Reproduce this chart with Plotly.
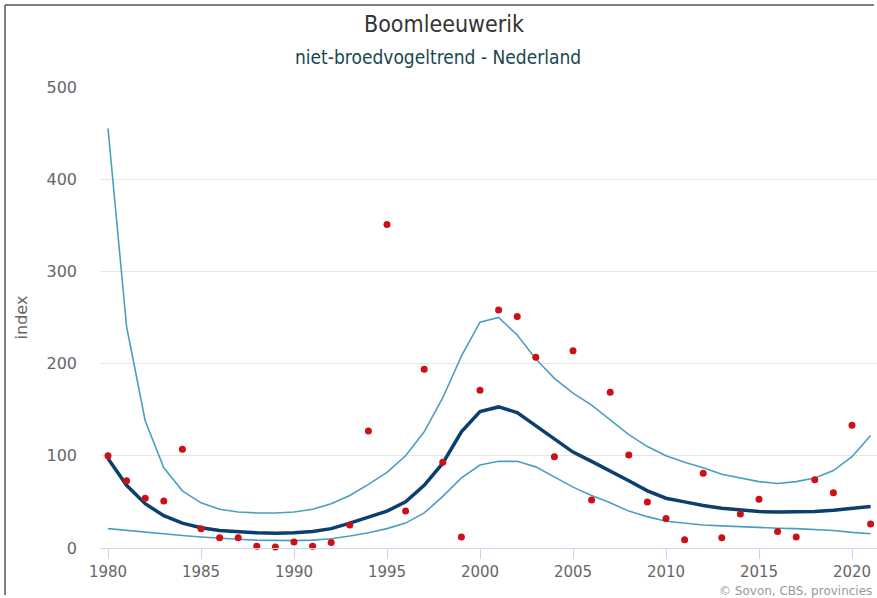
import plotly.graph_objects as go

years = list(range(1980, 2022))

observed = [100, 73, 54, 51, 107, 21, 11, 11, 2, 1,
            6.5, 2, 6, 25, 127, 351, 40, 194, 93, 12,
            171, 258, 251, 207, 99, 214, 52, 169, 101, 50,
            32, 9, 81, 11, 37, 53, 18, 12, 74, 60,
            133, 26]

trend = [97, 68, 48, 35, 27, 22, 19, 17.5, 16.5, 16,
         16.5, 18, 21, 27, 33, 40, 50, 68, 92, 126,
         148, 153, 147, 133, 118, 104, 94, 84, 73, 62,
         54, 50, 46, 43, 41, 39.5, 39, 39, 39.5, 41,
         43, 45]

upper = [455, 240, 138, 87, 62, 49, 42, 39, 38, 38,
         39, 42, 48, 57, 69, 82, 100, 126, 163, 208,
         245, 250, 231, 205, 184, 168, 155, 139, 123, 110,
         100, 93, 87, 80, 76, 72, 70, 72, 76, 84,
         99, 122]

lower = [21, 19, 17, 15, 13.5, 12, 10.5, 9.5, 8.5, 8,
         8, 8.5, 10, 13, 16.5, 21, 27, 38, 56, 76,
         90, 94, 94, 88, 77, 66, 57, 49, 40, 34,
         29, 27, 25, 24, 23, 22, 21.5, 21, 20, 19,
         17, 15.5]

x_ticks = [1980, 1985, 1990, 1995, 2000, 2005, 2010, 2015, 2020]
y_ticks = [0, 100, 200, 300, 400, 500]

title_text = "Boomleeuwerik"
subtitle_text = "niet-broedvogeltrend - Nederland"
y_title = "index"
credit_text = "© Sovon, CBS, provincies"

W, H = 877, 598
ml, mr, mt, mb = 100, 0, 87, 50
pw, ph = W - ml - mr, H - mt - mb

def px_x(p):
    return (p - ml) / pw

def px_y(p):
    return (H - mb - p) / ph

fig = go.Figure()
ci_color = "#4a9fc0"
fig.add_trace(go.Scatter(x=years, y=upper, mode="lines",
                         line=dict(color=ci_color, width=1.6), cliponaxis=False,
                         hoverinfo="skip", showlegend=False))
fig.add_trace(go.Scatter(x=years, y=lower, mode="lines",
                         line=dict(color=ci_color, width=1.6), cliponaxis=False,
                         hoverinfo="skip", showlegend=False))
fig.add_trace(go.Scatter(x=years, y=trend, mode="lines",
                         line=dict(color="#0b3f6e", width=3.5), cliponaxis=False,
                         showlegend=False))
fig.add_trace(go.Scatter(x=years, y=observed, mode="markers",
                         marker=dict(color="#cc1016", size=7), cliponaxis=False,
                         showlegend=False))

fig.update_layout(
    width=W, height=H,
    margin=dict(l=ml, r=mr, t=mt, b=mb),
    paper_bgcolor="white", plot_bgcolor="white",
    font=dict(family="DejaVu Sans", color="#666666"),
    showlegend=False,
)

fig.update_xaxes(
    range=[1980 - 8 / 18.6, 1980 + (W - 108) / 18.6],
    tickvals=x_ticks, ticktext=[str(v) for v in x_ticks],
    showgrid=False, zeroline=False,
    showline=True, linecolor="#ccd6eb", linewidth=1,
    ticks="outside", ticklen=10, tickcolor="#ccd6eb", tickwidth=1,
    tickfont=dict(size=15, color="#666666"),
)
fig.update_yaxes(
    range=[0, 500],
    tickvals=y_ticks, ticktext=[str(v) for v in y_ticks],
    showgrid=True, gridcolor="#e6e6e6", gridwidth=1,
    zeroline=False, showline=False,
    ticks="", ticklabelstandoff=22,
    tickfont=dict(size=16, color="#666666"),
    title=dict(text=y_title, font=dict(size=16, color="#666666"), standoff=14),
)

title_font = "DejaVu Sans Condensed, DejaVu Sans, sans-serif"
annotations = [
    dict(text=title_text, xref="paper", yref="paper",
         x=px_x(444), y=px_y(24), xanchor="center", yanchor="middle",
         showarrow=False, font=dict(family=title_font, size=23, color="#333333")),
    dict(text=subtitle_text, xref="paper", yref="paper",
         x=px_x(438), y=px_y(57), xanchor="center", yanchor="middle",
         showarrow=False, font=dict(family=title_font, size=19, color="#17474f")),
    dict(text=credit_text, xref="paper", yref="paper",
         x=px_x(874), y=px_y(591), xanchor="right", yanchor="middle",
         showarrow=False, font=dict(family="DejaVu Sans", size=12, color="#999999")),
]
fig.update_layout(annotations=annotations)

shapes = [
    dict(type="line", xref="paper", yref="paper",
         x0=px_x(5), x1=px_x(W - 3), y0=px_y(5), y1=px_y(5),
         line=dict(color="#555555", width=1.5)),
    dict(type="line", xref="paper", yref="paper",
         x0=px_x(5), x1=px_x(5), y0=px_y(5), y1=px_y(H - 3),
         line=dict(color="#555555", width=1.5)),
]
fig.update_layout(shapes=shapes)

fig.write_html(
    "out.html",
    config={"displayModeBar": False},
    post_script="document.body.style.margin='0';"
                "document.documentElement.style.overflow='hidden';",
)
